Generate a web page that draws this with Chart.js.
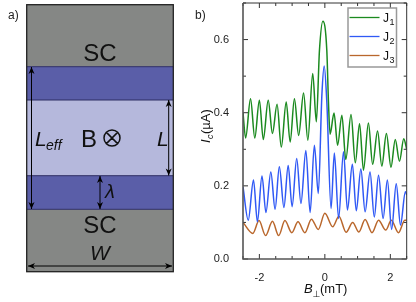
<!DOCTYPE html>
<html>
<head>
<meta charset="utf-8">
<style>
  html, body { margin: 0; padding: 0; background: #fff; }
  canvas { display: block; }
</style>
<script src="https://cdn.jsdelivr.net/npm/chart.js@4"></script>
</head>
<body>
<canvas id="chart" width="416" height="302"></canvas>
<script>
const seriesNames = ['1', '2', '3'];
const seriesColors = ['#1b8a1f', '#3059f5', '#b9672c'];

const j1Field = [-2.5, -2.42, -2.27, -2.14, -2.0, -1.88, -1.73, -1.6, -1.46, -1.33, -1.18, -1.06, -0.93, -0.8, -0.65, -0.52, -0.37, -0.26, -0.165, -0.06, 0.06, 0.11, 0.16, 0.28, 0.39, 0.52, 0.64, 0.8, 0.93, 1.06, 1.18, 1.33, 1.46, 1.61, 1.74, 1.88, 2.02, 2.15, 2.28, 2.41, 2.5];
const j1Current = [0.4, 0.331, 0.438, 0.331, 0.434, 0.327, 0.434, 0.343, 0.423, 0.306, 0.429, 0.32, 0.438, 0.338, 0.454, 0.325, 0.507, 0.375, 0.57, 0.65, 0.57, 0.43, 0.341, 0.399, 0.311, 0.393, 0.272, 0.395, 0.263, 0.37, 0.243, 0.372, 0.259, 0.35, 0.254, 0.343, 0.251, 0.327, 0.267, 0.329, 0.3];

const j2Field = [-2.5, -2.34, -2.18, -2.06, -1.92, -1.8, -1.65, -1.52, -1.39, -1.25, -1.12, -1.0, -0.86, -0.73, -0.58, -0.45, -0.32, -0.2, -0.09, -0.02, 0.06, 0.19, 0.29, 0.42, 0.57, 0.69, 0.84, 0.96, 1.1, 1.23, 1.38, 1.51, 1.64, 1.78, 1.91, 2.04, 2.18, 2.31, 2.46, 2.5];
const j2Current = [0.197, 0.106, 0.216, 0.102, 0.227, 0.127, 0.238, 0.136, 0.252, 0.141, 0.256, 0.143, 0.275, 0.152, 0.297, 0.127, 0.311, 0.179, 0.45, 0.528, 0.43, 0.138, 0.29, 0.111, 0.293, 0.134, 0.259, 0.132, 0.246, 0.129, 0.238, 0.115, 0.229, 0.111, 0.216, 0.081, 0.206, 0.093, 0.184, 0.175];

const j3Field = [-2.5, -2.2, -2.01, -1.81, -1.6, -1.41, -1.22, -1.01, -0.82, -0.61, -0.41, -0.2, 0.0, 0.24, 0.43, 0.65, 0.85, 1.04, 1.23, 1.44, 1.64, 1.86, 2.03, 2.25, 2.44, 2.5];
const j3Current = [0.1, 0.07, 0.105, 0.064, 0.103, 0.064, 0.105, 0.072, 0.102, 0.072, 0.109, 0.081, 0.125, 0.088, 0.117, 0.073, 0.1, 0.074, 0.108, 0.072, 0.106, 0.079, 0.106, 0.072, 0.106, 0.106];

const FONT = '"Liberation Sans", Arial, sans-serif';
const toPoints = (xs, ys) => xs.map((x, i) => ({ x: x, y: ys[i] }));

const arrowHead = (ctx, x, y, angle) => {
  ctx.save();
  ctx.translate(x, y);
  ctx.rotate(angle);
  ctx.beginPath();
  ctx.moveTo(0, 0);
  ctx.lineTo(-7, -3);
  ctx.lineTo(-5, 0);
  ctx.lineTo(-7, 3);
  ctx.closePath();
  ctx.fill();
  ctx.restore();
};

const arrow = (ctx, x1, y1, x2, y2) => {
  ctx.beginPath();
  ctx.moveTo(x1, y1);
  ctx.lineTo(x2, y2);
  ctx.stroke();
  const a = Math.atan2(y2 - y1, x2 - x1);
  arrowHead(ctx, x2, y2, a);
  arrowHead(ctx, x1, y1, a + Math.PI);
};

// panel a) is a sketch, not data
const drawSketch = (ctx) => {
  ctx.save();
  const bands = [
    [4.7, 62, '#858785'],
    [66.7, 33.3, '#5a5ea8'],
    [100, 75.7, '#b5b8dc'],
    [175.7, 33.6, '#5a5ea8'],
    [209.3, 62.4, '#858785']
  ];
  bands.forEach((b) => {
    ctx.fillStyle = b[2];
    ctx.fillRect(26.7, b[0], 146.6, b[1]);
  });
  ctx.strokeStyle = '#2d2d63';
  ctx.lineWidth = 1;
  [66.7, 100, 175.7, 209.3].forEach((y) => {
    ctx.beginPath();
    ctx.moveTo(26.7, y);
    ctx.lineTo(173.3, y);
    ctx.stroke();
  });
  ctx.strokeStyle = '#222';
  ctx.lineWidth = 1.3;
  ctx.strokeRect(26.7, 4.7, 146.6, 267);

  ctx.fillStyle = '#000';
  ctx.strokeStyle = '#000';
  ctx.lineWidth = 1;
  arrow(ctx, 31.5, 67, 31.5, 209);
  arrow(ctx, 168.7, 100, 168.7, 175.5);
  arrow(ctx, 100, 176, 100, 209);
  arrow(ctx, 28, 266, 172, 266);

  ctx.fillStyle = '#111';
  ctx.textBaseline = 'alphabetic';
  ctx.textAlign = 'center';
  ctx.font = '24px ' + FONT;
  ctx.fillText('SC', 100, 61);
  ctx.fillText('SC', 100, 233);
  ctx.fillText('B', 89, 147);
  ctx.font = 'italic 21px ' + FONT;
  ctx.fillText('W', 100, 260);
  ctx.textAlign = 'left';
  ctx.font = 'italic 21px ' + FONT;
  ctx.fillText('L', 35, 146);
  ctx.fillText('L', 157, 146);
  ctx.font = 'italic 14px ' + FONT;
  ctx.fillText('eff', 46, 150);
  ctx.font = 'italic 18px "DejaVu Sans"';
  ctx.fillText('λ', 105, 198);

  ctx.lineWidth = 1.5;
  ctx.strokeStyle = '#111';
  ctx.beginPath();
  ctx.arc(112, 138, 8, 0, Math.PI * 2);
  ctx.moveTo(106.4, 132.4);
  ctx.lineTo(117.6, 143.6);
  ctx.moveTo(117.6, 132.4);
  ctx.lineTo(106.4, 143.6);
  ctx.stroke();

  ctx.font = '12px ' + FONT;
  ctx.fillStyle = '#222';
  ctx.fillText('a)', 8, 19);
  ctx.fillText('b)', 195, 19);
  ctx.restore();
};

const drawTicksAndFrame = (chart) => {
  const ctx = chart.ctx;
  const area = chart.chartArea;
  const xs = chart.scales.x;
  const ys = chart.scales.y;
  ctx.save();
  ctx.strokeStyle = '#333';
  ctx.lineWidth = 1;
  ctx.beginPath();
  xs.ticks.forEach((t) => {
    const px = xs.getPixelForValue(t.value);
    const len = t.label !== '' ? 5 : 3;
    ctx.moveTo(px, area.bottom);
    ctx.lineTo(px, area.bottom - len);
    ctx.moveTo(px, area.top);
    ctx.lineTo(px, area.top + len);
  });
  ys.ticks.forEach((t) => {
    const py = ys.getPixelForValue(t.value);
    const len = t.label !== '' ? 5 : 3;
    ctx.moveTo(area.left, py);
    ctx.lineTo(area.left + len, py);
    ctx.moveTo(area.right, py);
    ctx.lineTo(area.right - len, py);
  });
  // top and right edges are thin, left and bottom heavier
  ctx.moveTo(area.left, area.top);
  ctx.lineTo(area.right, area.top);
  ctx.lineTo(area.right, area.bottom);
  ctx.stroke();
  ctx.strokeStyle = '#555';
  ctx.lineWidth = 1.6;
  ctx.beginPath();
  ctx.moveTo(area.left, area.top);
  ctx.lineTo(area.left, area.bottom);
  ctx.lineTo(area.right, area.bottom);
  ctx.stroke();
  ctx.restore();
};

const drawLegend = (ctx) => {
  ctx.save();
  ctx.fillStyle = '#fff';
  ctx.fillRect(348, 8, 48.5, 59);
  ctx.strokeStyle = '#999';
  ctx.lineWidth = 1.5;
  ctx.strokeRect(348, 8, 48.5, 59);
  seriesNames.forEach((name, i) => {
    const y = 17.5 + i * 19;
    ctx.strokeStyle = seriesColors[i];
    ctx.lineWidth = 1.3;
    ctx.beginPath();
    ctx.moveTo(349.5, y);
    ctx.lineTo(379.5, y);
    ctx.stroke();
    ctx.fillStyle = '#111';
    ctx.font = '12px ' + FONT;
    ctx.fillText('J', 383, y + 4);
    ctx.font = '9px ' + FONT;
    ctx.fillText(name, 389.5, y + 7);
  });
  ctx.restore();
};

const drawAxisTitles = (ctx) => {
  ctx.save();
  ctx.fillStyle = '#111';
  ctx.textBaseline = 'alphabetic';
  ctx.font = 'italic 13px ' + FONT;
  ctx.fillText('B', 304, 293);
  ctx.font = '9px "DejaVu Sans"';
  ctx.fillText('⊥', 312.5, 297);
  ctx.font = '13px ' + FONT;
  ctx.fillText('(mT)', 320, 293);

  ctx.translate(209.5, 143);
  ctx.rotate(-Math.PI / 2);
  ctx.font = 'italic 13px ' + FONT;
  ctx.fillText('I', 0, 0);
  ctx.font = 'italic 9px ' + FONT;
  ctx.fillText('c', 4, 3);
  ctx.font = '13px ' + FONT;
  ctx.fillText('(µA)', 9, 0);
  ctx.restore();
};

const decorPlugin = {
  id: 'decor',
  beforeDraw(chart) {
    drawSketch(chart.ctx);
    drawAxisTitles(chart.ctx);
  },
  afterDatasetsDraw(chart) {
    drawTicksAndFrame(chart);
    drawLegend(chart.ctx);
  }
};

new Chart(document.getElementById('chart'), {
  type: 'line',
  data: {
    datasets: [
      { data: toPoints(j1Field, j1Current), borderColor: seriesColors[0] },
      { data: toPoints(j2Field, j2Current), borderColor: seriesColors[1] },
      { data: toPoints(j3Field, j3Current), borderColor: seriesColors[2] }
    ]
  },
  options: {
    responsive: false,
    animation: false,
    layout: { padding: { top: 3, right: 9.3, left: 0, bottom: 0 } },
    elements: {
      point: { radius: 0 },
      line: { borderWidth: 1.5, cubicInterpolationMode: 'monotone' }
    },
    plugins: { legend: { display: false }, tooltip: { enabled: false } },
    scales: {
      x: {
        type: 'linear',
        min: -2.5,
        max: 2.5,
        afterFit: (scale) => {
          scale.height = 43;
          scale.paddingLeft = 0;
          scale.paddingRight = 0;
        },
        grid: { display: false },
        border: { display: false },
        ticks: {
          stepSize: 0.5,
          autoSkip: false,
          maxRotation: 0,
          padding: 4,
          color: '#222',
          font: { family: FONT, size: 11 },
          callback: (v) => (v % 2 === 0 ? String(v) : '')
        }
      },
      y: {
        min: 0,
        max: 0.7,
        afterFit: (scale) => {
          scale.width = 243;
          scale.paddingTop = 0;
          scale.paddingBottom = 0;
        },
        grid: { display: false },
        border: { display: false },
        ticks: {
          stepSize: 0.1,
          autoSkip: false,
          padding: 6,
          color: '#222',
          font: { family: FONT, size: 11 },
          callback: (v) => (Math.round(v * 10) % 2 === 0 ? v.toFixed(1) : '')
        }
      }
    }
  },
  plugins: [decorPlugin]
});
</script>
</body>
</html>
